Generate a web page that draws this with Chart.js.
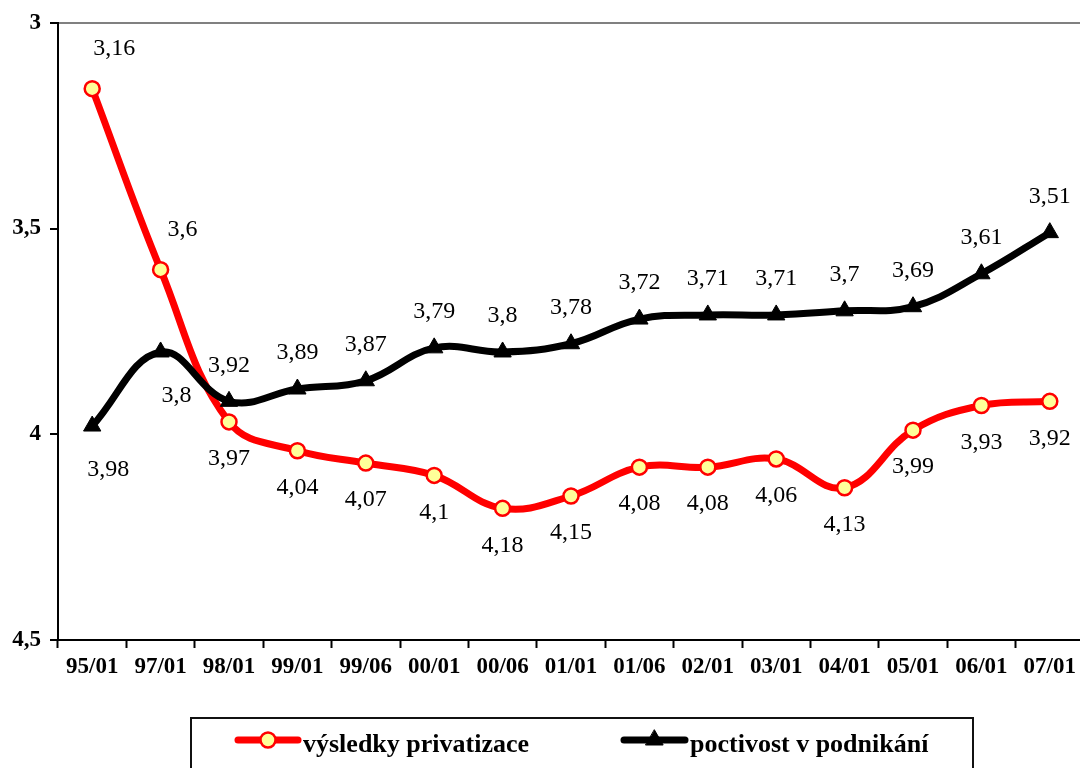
<!DOCTYPE html>
<html>
<head>
<meta charset="utf-8">
<script src="https://cdn.jsdelivr.net/npm/chart.js@4.4.0/dist/chart.umd.min.js"></script>
<style>
  html, body { margin: 0; padding: 0; background: #fff; overflow: hidden; }
  #wrap { width: 1095px; height: 768px; }
</style>
</head>
<body>
<div id="wrap"><canvas id="myChart" width="1095" height="768"></canvas></div>
<script>
'use strict';

const periods = ['95/01', '97/01', '98/01', '99/01', '99/06', '00/01', '00/06', '01/01',
  '01/06', '02/01', '03/01', '04/01', '05/01', '06/01', '07/01'];
const privatizace = [3.16, 3.6, 3.97, 4.04, 4.07, 4.1, 4.18, 4.15, 4.08, 4.08, 4.06, 4.13, 3.99, 3.93, 3.92];
const poctivost = [3.98, 3.8, 3.92, 3.89, 3.87, 3.79, 3.8, 3.78, 3.72, 3.71, 3.71, 3.7, 3.69, 3.61, 3.51];
const yTicks = [3, 3.5, 4, 4.5];

const serif = '"Liberation Serif", "Times New Roman", serif';

function fmt(v) {
  return String(v).replace('.', ',');
}

// where each value label sits relative to its point
function redLabelPos(i) {
  if (i < 2) return { dx: 22, dy: -40 };
  return { dx: 0, dy: 37 };
}
function blackLabelPos(i) {
  if (i < 2) return { dx: 16, dy: 44 };
  return { dx: 0, dy: -36 };
}

const valueLabels = {
  id: 'valueLabels',
  afterDatasetsDraw(chart) {
    const ctx = chart.ctx;
    ctx.save();
    ctx.font = '24px ' + serif;
    ctx.fillStyle = '#000';
    ctx.textAlign = 'center';
    ctx.textBaseline = 'middle';
    chart.data.datasets.forEach((ds, d) => {
      const meta = chart.getDatasetMeta(d);
      meta.data.forEach((pt, i) => {
        const pos = ds.labelPos(i);
        ctx.fillText(fmt(ds.data[i]), pt.x + pos.dx, pt.y + pos.dy);
      });
    });
    ctx.restore();
  }
};

const boxLegend = {
  id: 'boxLegend',
  afterDraw(chart) {
    const ctx = chart.ctx;
    ctx.save();
    ctx.strokeStyle = '#111';
    ctx.lineWidth = 2;
    ctx.strokeRect(191, 718, 782, 70);

    const items = [
      { ds: chart.data.datasets[0], x1: 238, x2: 298, tx: 303 },
      { ds: chart.data.datasets[1], x1: 624, x2: 685, tx: 690 }
    ];
    const y = 740;
    items.forEach(it => {
      ctx.strokeStyle = it.ds.borderColor;
      ctx.lineWidth = it.ds.borderWidth;
      ctx.lineCap = 'round';
      ctx.beginPath();
      ctx.moveTo(it.x1, y);
      ctx.lineTo(it.x2, y);
      ctx.stroke();
      ctx.fillStyle = it.ds.pointBackgroundColor;
      ctx.strokeStyle = it.ds.pointBorderColor;
      ctx.lineWidth = it.ds.pointBorderWidth;
      Chart.helpers.drawPoint(ctx, {
        pointStyle: it.ds.pointStyle,
        radius: it.ds.pointRadius,
        borderWidth: it.ds.pointBorderWidth,
        rotation: 0
      }, (it.x1 + it.x2) / 2, y);
      ctx.fillStyle = '#000';
      ctx.font = 'bold 26px ' + serif;
      ctx.textAlign = 'left';
      ctx.textBaseline = 'alphabetic';
      ctx.fillText(it.ds.label, it.tx, 752);
    });
    ctx.restore();
  }
};

const data = {
  labels: periods,
  datasets: [{
    label: 'výsledky privatizace',
    data: privatizace,
    borderColor: '#FF0000',
    borderWidth: 7,
    tension: 0.4,
    pointStyle: 'circle',
    pointRadius: 7.5,
    pointBorderWidth: 2.5,
    pointBackgroundColor: '#FFFF99',
    pointBorderColor: '#FF0000',
    labelPos: redLabelPos,
    order: 2
  },
  {
    label: 'poctivost v podnikání',
    data: poctivost,
    borderColor: '#000000',
    borderWidth: 7,
    tension: 0.4,
    pointStyle: 'triangle',
    pointRadius: 10,
    pointBorderWidth: 1,
    pointBackgroundColor: '#000000',
    pointBorderColor: '#000000',
    labelPos: blackLabelPos,
    order: 1
  }]
};

const config = {
  type: 'line',
  data: data,
  options: {
    responsive: false,
    animation: false,
    layout: { padding: { top: 19, right: 3, left: 0, bottom: 0 } },
    plugins: {
      legend: { display: false },
      tooltip: { enabled: false }
    },
    scales: {
      x: {
        offset: true,
        afterFit(scale) { scale.height = 128; },
        grid: {
          offset: true,
          drawOnChartArea: false,
          tickLength: 8,
          tickColor: '#000',
          tickWidth: 2
        },
        border: { color: '#000', width: 2 },
        ticks: {
          color: '#000',
          padding: 5,
          maxRotation: 0,
          autoSkip: false,
          font: { family: serif, size: 23, weight: 'bold' }
        }
      },
      y: {
        reverse: true,
        min: yTicks[0],
        max: yTicks[yTicks.length - 1],
        afterFit(scale) { scale.width = 58; },
        afterBuildTicks(scale) {
          scale.ticks = yTicks.map(v => ({ value: v }));
        },
        grid: {
          color: c => (c.tick && c.tick.value === yTicks[0]) ? '#808080' : 'rgba(0,0,0,0)',
          lineWidth: 2,
          tickLength: 8,
          tickColor: '#000',
          tickWidth: 2
        },
        border: { color: '#000', width: 2 },
        ticks: {
          color: '#000',
          padding: 9,
          font: { family: serif, size: 23, weight: 'bold' },
          callback: v => fmt(v)
        }
      }
    }
  },
  plugins: [valueLabels, boxLegend]
};

let canvasChart = document.getElementById('myChart');
const myChart = new Chart(canvasChart, config);
</script>
</body>
</html>
